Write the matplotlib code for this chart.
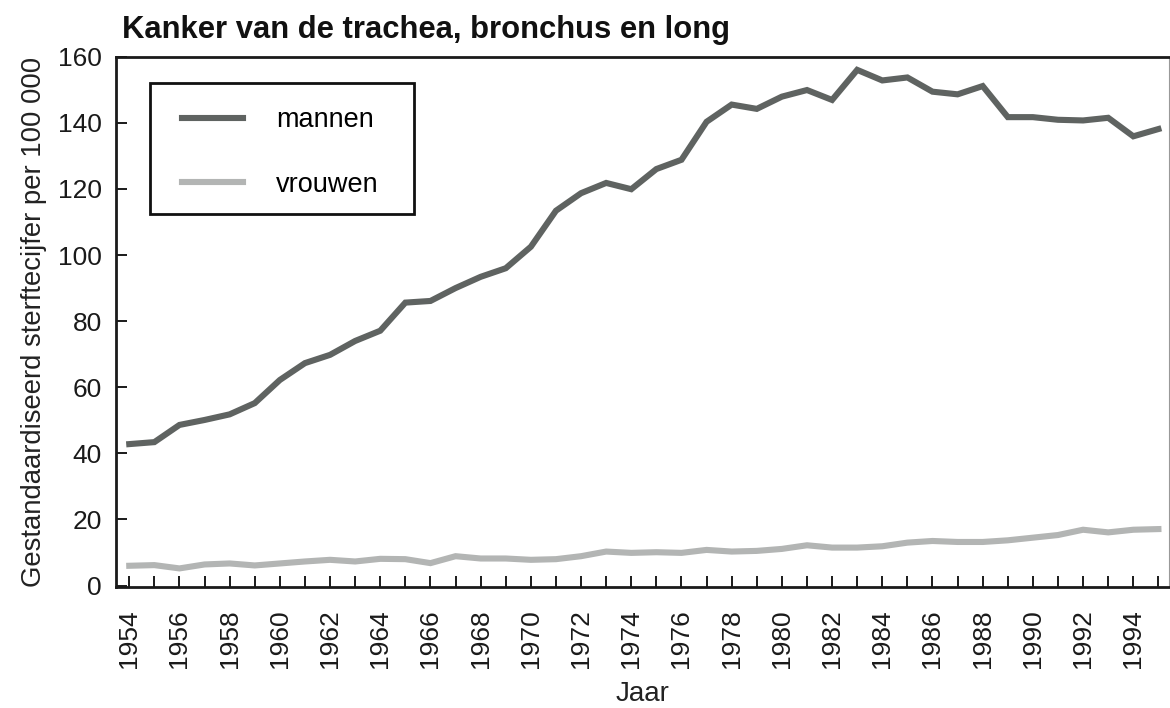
import matplotlib
matplotlib.use("Agg")
from matplotlib import pyplot as plt
from matplotlib.patches import Rectangle

plt.rcParams['font.family'] = ['Liberation Sans', 'DejaVu Sans']

# Sterftecijfers kanker van trachea, bronchus en long
jaren = list(range(1954, 1996))

mannen = [42.8, 43.4, 48.6, 50.1, 51.8, 55.2, 62.2, 67.3, 69.8, 74.0,
          77.1, 85.6, 86.1, 90.0, 93.4, 96.0, 102.5, 113.4, 118.7, 121.8,
          119.9, 126.0, 128.8, 140.3, 145.5, 144.2, 147.9, 149.9, 146.9, 156.0,
          152.8, 153.7, 149.4, 148.6, 151.1, 141.7, 141.7, 140.9, 140.7, 141.5,
          135.9, 138.1]

vrouwen = [6.0, 6.2, 5.2, 6.4, 6.7, 6.1, 6.7, 7.3, 7.8, 7.3,
           8.1, 8.0, 6.8, 8.9, 8.2, 8.2, 7.8, 8.0, 8.9, 10.3,
           9.9, 10.1, 9.9, 10.8, 10.3, 10.5, 11.1, 12.2, 11.5, 11.5,
           11.9, 13.0, 13.5, 13.2, 13.2, 13.7, 14.5, 15.3, 16.9, 16.1,
           16.9, 17.1]

jaar_labels = list(range(1954, 1996, 2))
y_ticks = list(range(0, 161, 20))

fig = plt.figure(figsize=(11.7, 7.08), dpi=100)
ax = fig.add_axes([0.0991, 0.171, 0.9, 0.749])

ax.plot(jaren, mannen, color='#5f6361', lw=4.4, solid_joinstyle='miter', label='mannen')
ax.plot(jaren, vrouwen, color='#b3b5b4', lw=4.4, solid_joinstyle='miter', label='vrouwen')

ax.set_xlim(1953.47, 1995.42)
ax.set_ylim(-0.4, 160)

ax.set_xticks(jaren, minor=True)
ax.set_xticks(jaar_labels)
ax.set_xticklabels([str(j) for j in jaar_labels], rotation=90, va='top', ha='center')
ax.set_yticks(y_ticks)

ax.tick_params(axis='both', which='both', direction='in', length=8, width=1.4,
               labelsize=19, colors='#1a1a1a')
ax.tick_params(axis='x', which='both', pad=16)
ax.tick_params(axis='y', pad=10)

for side in ['left', 'top', 'bottom']:
    ax.spines[side].set_linewidth(2)
    ax.spines[side].set_color('#1a1a1a')
ax.spines['right'].set_linewidth(0.8)
ax.spines['right'].set_color('#999999')

ax.set_xlabel("Jaar", fontsize=20, color='#222222', labelpad=9)
ax.set_ylabel("Gestandaardiseerd sterftecijfer per 100 000", fontsize=19.8,
              color='#222222', labelpad=8)

fig.text(0.104, 0.958, "Kanker van de trachea, bronchus en long", fontsize=22.3,
         fontweight='bold', color='#111111', va='center', ha='left')

# legend without its own frame, box drawn separately (wider than tall padding)
leg = ax.legend(loc='center left', bbox_to_anchor=(0.0627, 0.8194), fontsize=19.5,
                frameon=False, handlelength=2.25, handletextpad=1.22,
                labelspacing=1.41, borderpad=0, borderaxespad=0)
ax.add_patch(Rectangle((0.0323, 0.7034), 0.2507, 0.247, transform=ax.transAxes,
                       fill=False, edgecolor='#111111', lw=2, zorder=5))

fig.savefig("out.png", dpi=100)
